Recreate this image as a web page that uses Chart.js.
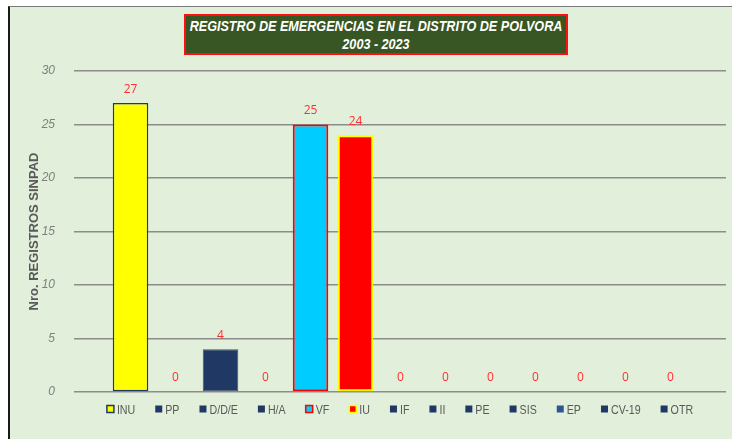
<!DOCTYPE html>
<html>
<head>
<meta charset="utf-8">
<script src="https://cdn.jsdelivr.net/npm/chart.js@4.4.1/dist/chart.umd.min.js"></script>
<style>
  html, body { margin: 0; padding: 0; background: #fff; }
  #panel {
    position: absolute; left: 8px; top: 6px; width: 724px; height: 433px;
    border-left: 2px solid #1a1a1a; border-top: 1px solid #7a7a7a;
    background: #E2EFDA;
  }
  #chartBox { position: absolute; left: 0; top: 0; width: 722px; height: 432px; }
  #title {
    position: absolute; left: 174px; top: 7px; width: 380px; height: 37px;
    background: #375623; border: 2px solid #ff1010; overflow: hidden;
  }
  #title .lines {
    position: absolute; left: -31px; top: 1px; width: 442px;
    transform: scaleX(0.9); transform-origin: center;
    color: #fff; font: italic bold 14px "Liberation Sans", Arial, sans-serif;
    line-height: 18px; text-align: center; white-space: nowrap;
  }
</style>
</head>
<body>
<div id="panel">
  <div id="chartBox"><canvas id="emergChart" width="722" height="432"></canvas></div>
  <div id="title"><div class="lines">REGISTRO DE EMERGENCIAS EN EL DISTRITO DE POLVORA<br>2003 - 2023</div></div>
</div>
<script>
// ====== DATA ======
const categories = ["INU", "PP", "D/D/E", "H/A", "VF", "IU", "IF", "II", "PE", "SIS", "EP", "CV-19", "OTR"];
const registros = [27, 0, 4, 0, 25, 24, 0, 0, 0, 0, 0, 0, 0];
const yTicks = [0, 5, 10, 15, 20, 25, 30];

// ====== STYLE ======
const NAVY = "#203864";
const fills = ["#FFFF00", NAVY, NAVY, NAVY, "#00CCFF", "#FF0000", NAVY, NAVY, NAVY, NAVY, "#2F5597", NAVY, NAVY];
const strokes = ["#1F3864", NAVY, "#44546A", NAVY, "#FF0000", "#FFFF00", NAVY, NAVY, NAVY, NAVY, "#2F5597", NAVY, NAVY];
const strokeW = [1.5, 0, 1, 0, 2, 2, 0, 0, 0, 0, 0, 0, 0];
const FONT = '"Liberation Sans", Arial, sans-serif';
const GREY = "#595959";
const NARROW_X = 0.82; // horizontal squeeze for the condensed look

// value labels above each bar
const valueLabels = {
  id: "valueLabels",
  afterDatasetsDraw(chart) {
    const ctx = chart.ctx;
    const meta = chart.getDatasetMeta(0);
    ctx.save();
    ctx.font = '12px "Open Sans", "Liberation Sans", sans-serif';
    ctx.fillStyle = "#FF3030";
    ctx.textAlign = "center";
    ctx.textBaseline = "middle";
    meta.data.forEach((bar, i) => {
      ctx.fillText(String(registros[i]), bar.x, bar.y - 14);
    });
    ctx.restore();
  }
};

// legend row under the plot, one entry per category
const categoryLegend = {
  id: "categoryLegend",
  afterDraw(chart) {
    const ctx = chart.ctx;
    const area = chart.chartArea;
    const box = 7, gap = 3, spacing = 20;
    ctx.save();
    ctx.font = "13px " + FONT;
    const widths = categories.map(c => box + gap + ctx.measureText(c).width * NARROW_X);
    const total = widths.reduce((a, b) => a + b, 0) + spacing * (categories.length - 1);
    let x = (area.left + area.right) / 2 - total / 2;
    const y = area.bottom + 17;
    ctx.textBaseline = "middle";
    categories.forEach((c, i) => {
      ctx.fillStyle = fills[i];
      ctx.fillRect(x, y - box / 2, box, box);
      if (i === 0 || i === 4 || i === 5) {
        ctx.strokeStyle = strokes[i];
        ctx.lineWidth = 1.5;
        ctx.strokeRect(x, y - box / 2, box, box);
      }
      ctx.save();
      ctx.translate(x + box + gap, y + 1);
      ctx.scale(NARROW_X, 1);
      ctx.fillStyle = GREY;
      ctx.fillText(c, 0, 0);
      ctx.restore();
      x += widths[i] + spacing;
    });
    ctx.restore();
  }
};

new Chart(document.getElementById("emergChart"), {
  type: "bar",
  data: {
    datasets: [{
      data: registros.map((v, i) => ({ x: i, y: v })),
      backgroundColor: fills,
      borderColor: strokes,
      borderWidth: strokeW,
      borderSkipped: false,
      barPercentage: 0.79,
      categoryPercentage: 1
    }]
  },
  options: {
    responsive: false,
    animation: false,
    layout: { padding: { top: 64, right: 6, bottom: 47, left: 0 } },
    plugins: { legend: { display: false }, tooltip: { enabled: false } },
    scales: {
      x: { type: "linear", min: -1.256, max: 13.233, display: false, offset: false },
      y: {
        min: 0, max: 30,
        afterBuildTicks: axis => { axis.ticks = yTicks.map(v => ({ value: v })); },
        afterFit: axis => { axis.width = 64; },
        border: { display: false },
        grid: { color: "#8c8c8c", lineWidth: 1.4, drawTicks: false },
        ticks: { padding: 19, color: "#7f7f7f", font: { family: FONT, size: 12, style: "italic" } },
        title: {
          display: true, text: "Nro. REGISTROS SINPAD", color: GREY,
          font: { family: FONT, size: 13, weight: "bold" }, padding: { top: 17, bottom: 0 }
        }
      }
    }
  },
  plugins: [valueLabels, categoryLegend]
});
</script>
</body>
</html>
